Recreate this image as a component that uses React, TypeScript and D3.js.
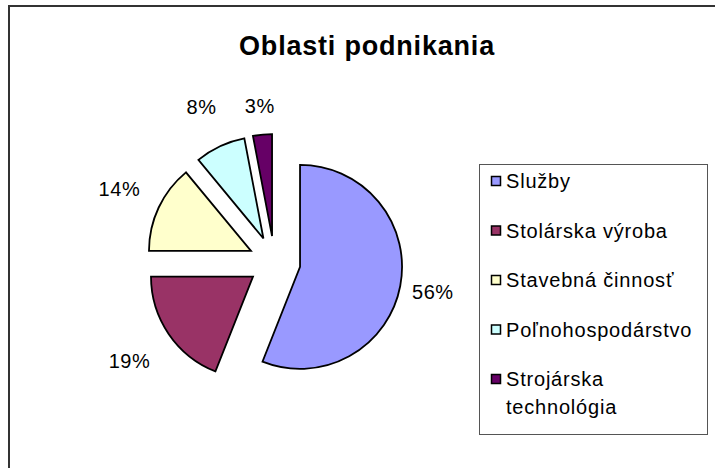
import React from "react";
import * as d3 from "d3";

const categories = ["Služby", "Stolárska výroba", "Stavebná činnosť", "Poľnohospodárstvo", "Strojárska technológia"];
const legendLines = [["Služby"], ["Stolárska výroba"], ["Stavebná činnosť"], ["Poľnohospodárstvo"], ["Strojárska", "technológia"]];
const values = [56, 19, 14, 8, 3];
const colors = ["#9999FF", "#993366", "#FFFFCC", "#CCFFFF", "#660066"];
const title = "Oblasti podnikania";

const W = 715;
const H = 468;
const FONT = "'Liberation Sans', Arial, sans-serif";

export default function App() {
  const cx = 274.5;
  const cy = 262;
  const r = 102;
  const explode = 26;
  const total = d3.sum(values);
  const pie = d3.pie<number>().sort(null).value((d) => d);
  const arcs = pie(values);
  const arcGen = d3.arc<d3.PieArcDatum<number>>().innerRadius(0).outerRadius(r);

  const legendX = 479;
  const legendY = 164;
  const legendW = 228;
  const legendH = 270;
  const itemStart = 188;
  const itemStep = 49.5;

  return (
    <svg width={W} height={H} style={{ position: "absolute", left: 0, top: 0, background: "#fff" }} fontFamily={FONT}>
      <rect x={0} y={0} width={W} height={H} fill="#fff" />
      <rect x={9} y={6} width={W + 20} height={H + 20} fill="none" stroke="#333" strokeWidth={2} />
      <text x={367} y={55} textAnchor="middle" fontSize={27} fontWeight="bold" letterSpacing={0.8} fill="#000">
        {title}
      </text>
      {arcs.map((a, i) => {
        const mid = (a.startAngle + a.endAngle) / 2;
        const dx = Math.sin(mid);
        const dy = -Math.cos(mid);
        const ox = cx + dx * explode;
        const oy = cy + dy * explode;
        return (
          <path
            key={"s" + i}
            d={arcGen(a) || ""}
            transform={`translate(${ox},${oy})`}
            fill={colors[i]}
            stroke="#000"
            strokeWidth={1.8}
            strokeLinejoin="miter"
          />
        );
      })}
      {arcs.map((a, i) => {
        const mid = (a.startAngle + a.endAngle) / 2;
        const dx = Math.sin(mid);
        const dy = -Math.cos(mid);
        const R = 152 + 50 * Math.abs(dx * dy);
        const pct = d3.format(".0%")(a.data / total);
        return (
          <text
            key={"l" + i}
            x={cx + dx * R}
            y={cy + dy * R + 7}
            textAnchor="middle"
            fontSize={20}
            letterSpacing={0.6}
            fill="#000"
          >
            {pct}
          </text>
        );
      })}
      <rect x={legendX + 0.5} y={legendY + 0.5} width={legendW} height={legendH} fill="#fff" stroke="#555" strokeWidth={1} />
      {categories.map((c, i) => {
        const by = itemStart + i * itemStep;
        return (
          <g key={"g" + i}>
            <rect x={491.5} y={by - 11.5} width={9} height={9} fill={colors[i]} stroke="#000" strokeWidth={1.5} />
            {legendLines[i].map((ln, j) => (
              <text key={j} x={506} y={by + j * 28} fontSize={20} letterSpacing={0.8} fill="#000">
                {ln}
              </text>
            ))}
          </g>
        );
      })}
    </svg>
  );
}
